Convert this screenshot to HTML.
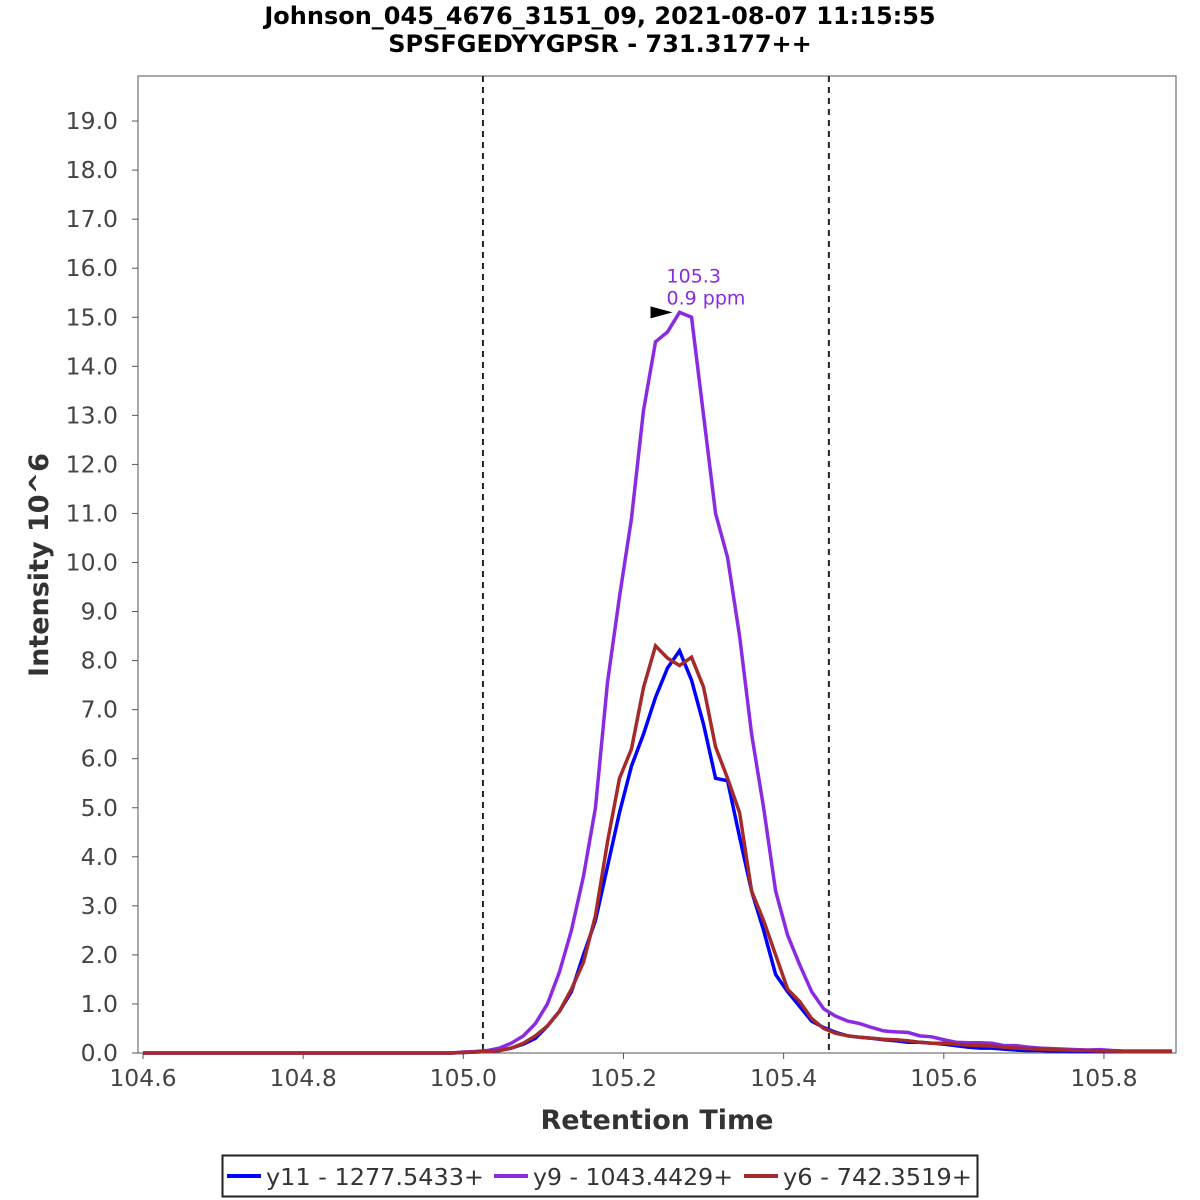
<!DOCTYPE html>
<html><head><meta charset="utf-8"><style>
html,body{margin:0;padding:0;background:#fff;width:1200px;height:1200px;overflow:hidden}
svg text{font-family:"DejaVu Sans","Liberation Sans",sans-serif}
</style></head><body>
<svg id="chart" width="1200" height="1200" xmlns="http://www.w3.org/2000/svg">
<text x="600" y="24" text-anchor="middle" font-size="24" font-weight="bold">Johnson_045_4676_3151_09, 2021-08-07 11:15:55</text>
<text x="600" y="52" text-anchor="middle" font-size="24" font-weight="bold">SPSFGEDYYGPSR - 731.3177++</text>
<rect x="138" y="76" width="1038" height="977" fill="#fff" stroke="#555" stroke-width="1"/>
<g id="yaxis"></g>
<g id="xaxis"></g>
<g id="marks"></g>
<text transform="translate(48,565) rotate(-90)" text-anchor="middle" font-size="27" font-weight="bold" fill="#333">Intensity 10^6</text>
<text x="657" y="1129" text-anchor="middle" font-size="27" font-weight="bold" fill="#333">Retention Time</text>
<g>
<rect x="222.5" y="1155.5" width="755" height="41" fill="#fff" stroke="#222" stroke-width="2"/>
<line x1="227" y1="1176" x2="261" y2="1176" stroke="#0000ff" stroke-width="4"/>
<text x="266" y="1185" font-size="23" fill="#333" textLength="218" lengthAdjust="spacingAndGlyphs">y11 - 1277.5433+</text>
<line x1="494" y1="1176" x2="528" y2="1176" stroke="#8a2be2" stroke-width="4"/>
<text x="533" y="1185" font-size="23" fill="#333" textLength="200" lengthAdjust="spacingAndGlyphs">y9 - 1043.4429+</text>
<line x1="744" y1="1176" x2="778" y2="1176" stroke="#a52a2a" stroke-width="4"/>
<text x="783" y="1185" font-size="23" fill="#333" textLength="189" lengthAdjust="spacingAndGlyphs">y6 - 742.3519+</text>
</g>
</svg>
<script>
const times=[104.6,104.985,105.0,105.015,105.03,105.045,105.06,105.075,105.09,105.105,105.12,105.135,105.15,105.165,105.18,105.195,105.21,105.225,105.24,105.255,105.27,105.285,105.3,105.315,105.33,105.345,105.36,105.375,105.39,105.405,105.42,105.435,105.45,105.465,105.48,105.495,105.51,105.525,105.54,105.555,105.57,105.585,105.6,105.615,105.63,105.645,105.66,105.675,105.69,105.705,105.72,105.735,105.75,105.765,105.78,105.795,105.81,105.825,105.84,105.855,105.87,105.885];
const y9Values=[0,0,0.02,0.03,0.05,0.1,0.2,0.35,0.6,1.0,1.65,2.5,3.6,5.0,7.55,9.3,10.9,13.1,14.5,14.7,15.1,15.0,13.0,11.0,10.1,8.5,6.5,5.0,3.3,2.4,1.8,1.25,0.9,0.75,0.65,0.6,0.52,0.45,0.43,0.42,0.35,0.33,0.27,0.22,0.21,0.21,0.2,0.15,0.15,0.12,0.1,0.09,0.08,0.07,0.06,0.07,0.05,0.04,0.04,0.04,0.04,0.04];
const y6Values=[0,0,0.01,0.02,0.03,0.05,0.1,0.2,0.35,0.55,0.85,1.3,1.85,2.8,4.3,5.6,6.2,7.45,8.3,8.05,7.9,8.07,7.46,6.24,5.6,4.9,3.3,2.7,2.0,1.3,1.05,0.7,0.5,0.4,0.35,0.32,0.3,0.28,0.27,0.25,0.22,0.2,0.2,0.18,0.16,0.15,0.14,0.12,0.1,0.09,0.08,0.07,0.06,0.05,0.05,0.04,0.04,0.03,0.03,0.03,0.03,0.03];
const y11Values=[0,0,0.01,0.02,0.03,0.05,0.1,0.18,0.3,0.55,0.85,1.25,2.0,2.7,3.8,4.9,5.85,6.5,7.25,7.85,8.2,7.6,6.7,5.6,5.55,4.4,3.3,2.5,1.6,1.25,0.95,0.65,0.52,0.42,0.35,0.32,0.3,0.27,0.25,0.22,0.22,0.2,0.18,0.15,0.12,0.1,0.1,0.08,0.06,0.05,0.05,0.04,0.04,0.03,0.03,0.03,0.03,0.03,0.03,0.03,0.03,0.03];
const yTicks=[0,1,2,3,4,5,6,7,8,9,10,11,12,13,14,15,16,17,18,19];
const xTicks=[104.6,104.8,105.0,105.2,105.4,105.6,105.8];
const boundaries=[105.0245,105.4565];
const apex=[105.27,15.1];
const NS='http://www.w3.org/2000/svg';
const xs=t=>143+(t-104.6)*800.8;
const ys=v=>1053-v*49.05;
function mk(tag,attrs,parent){const e=document.createElementNS(NS,tag);for(const k in attrs)e.setAttribute(k,attrs[k]);parent.appendChild(e);return e;}
const ya=document.getElementById('yaxis'),xa=document.getElementById('xaxis'),mg=document.getElementById('marks');
yTicks.forEach(v=>{
 const l=mk('line',{x1:132,x2:138,y1:ys(v),y2:ys(v),stroke:'#555'},ya);
 
 
 const t=mk('text',{x:118,y:ys(v)+8,'text-anchor':'end','font-size':23.5,fill:'#444'},ya);
 t.textContent=v.toFixed(1);
 
 
});
xTicks.forEach(v=>{
 const l=mk('line',{x1:xs(v),x2:xs(v),y1:1053,y2:1059,stroke:'#555'},xa);
 
 
 const t=mk('text',{x:xs(v),y:1086,'text-anchor':'middle','font-size':23.5,fill:'#444'},xa);
 t.textContent=v.toFixed(1);
 
 
});
boundaries.forEach(b=>{
 const l=mk('line',{x1:xs(b),x2:xs(b),y1:76,y2:1053,stroke:'#222','stroke-width':2,'stroke-dasharray':'6,5'},mg);
 
 
});
function series(vals,color,name){
 const p=mk('polyline',{points:times.map((t,i)=>xs(t)+','+ys(vals[i])).join(' '),fill:'none',stroke:color,'stroke-width':3.5,'stroke-linejoin':'miter'},mg);
 
 
}
series(y11Values,'#0000ff','series-y11');
series(y9Values,'#8a2be2','series-y9');
series(y6Values,'#a52a2a','series-y6');
const ax=xs(apex[0]),ay=ys(apex[1]);
const tri=mk('polygon',{points:(ax-29)+','+(ay-6)+' '+(ax-7)+','+ay+' '+(ax-29)+','+(ay+6),fill:'#000'},mg);


const a1=mk('text',{x:ax-13,y:ay-30,'font-size':19,fill:'#8a2be2'},mg);
a1.textContent='105.3';


const a2=mk('text',{x:ax-13,y:ay-8,'font-size':19,fill:'#8a2be2'},mg);
a2.textContent='0.9 ppm';


</script>
</body></html>
